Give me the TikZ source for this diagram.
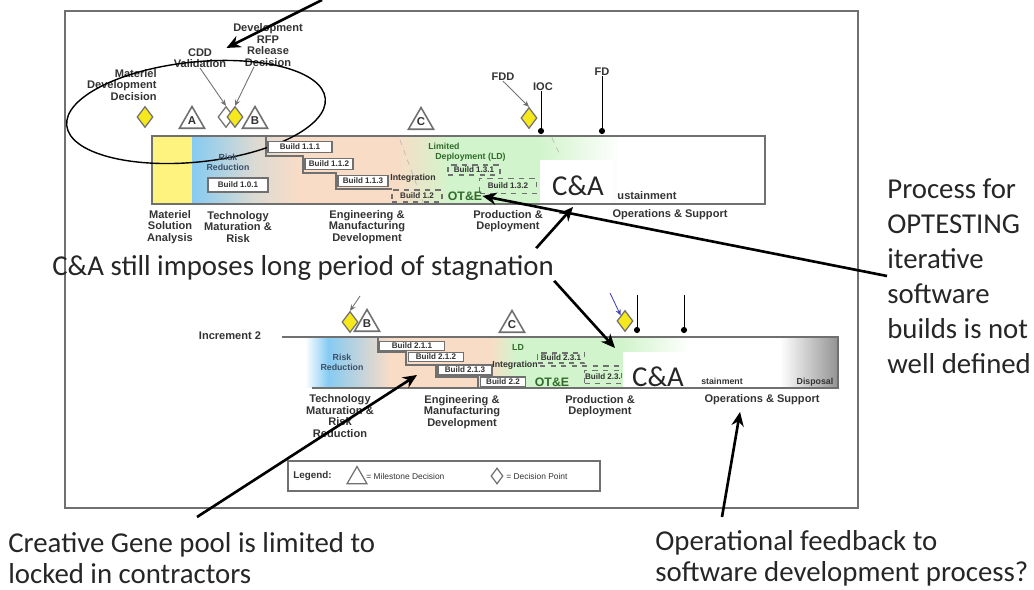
\documentclass[tikz,border=0pt]{standalone}
\usepackage{fontspec}
\setmainfont{Carlito}
\newfontfamily\chartfont{Liberation Sans}
\usetikzlibrary{shapes.geometric,arrows.meta}

\definecolor{dpyellow}{HTML}{F5E81C}
\definecolor{msayellow}{HTML}{FFF380}
\definecolor{barblue}{HTML}{86CBF2}
\definecolor{bargray}{HTML}{DCDAD2}
\definecolor{peach}{HTML}{F9DCC6}
\definecolor{lgreen}{HTML}{D2F4CC}
\definecolor{edge}{HTML}{707070}
\definecolor{labelgray}{HTML}{333333}
\definecolor{otegreen}{HTML}{2F6B2A}
\definecolor{riskblue}{HTML}{3B4F66}

\begin{document}
\begin{tikzpicture}[x=0.02cm, y=-0.02cm,
    lbl/.style={font=\chartfont\bfseries\fontsize{6.3}{6.6}\selectfont, text=labelgray, align=center, inner sep=0pt},
    small/.style={font=\chartfont\bfseries\fontsize{5}{5.6}\selectfont, text=labelgray, align=center, inner sep=0pt},
    build/.style={draw=edge, fill=white, line width=0.7pt, inner sep=0pt, minimum height=0.22cm, font=\chartfont\bfseries\fontsize{4.6}{5}\selectfont, text=labelgray},
    dbuild/.style={draw=edge, dashed, line width=0.6pt, inner sep=0pt, minimum height=0.2cm, font=\chartfont\bfseries\fontsize{4.6}{5}\selectfont, text=labelgray},
    ms/.style={regular polygon, regular polygon sides=3, draw=edge, fill=white, line width=0.9pt, minimum size=0.58cm, inner sep=0pt, font=\chartfont\bfseries\fontsize{6.5}{7}\selectfont, text=labelgray},
    dp/.style={diamond, draw=edge, fill=dpyellow, line width=0.7pt, minimum width=0.32cm, minimum height=0.42cm, inner sep=0pt},
    pinend/.style={circle, fill=black, inner sep=0pt, minimum size=3.5pt},
    ann/.style={font=\fontsize{16.4}{17.6}\selectfont, inner sep=0pt, align=left, text=black!85},
    note/.style={line width=1.5pt, -{Stealth[length=8pt,width=7pt]}},
    thin/.style={draw=edge, line width=0.5pt, -{Stealth[length=3.5pt,width=3pt]}},
    ote/.style={font=\chartfont\bfseries\fontsize{7}{7}\selectfont, text=otegreen, inner sep=0pt}
]
\useasboundingbox (0,0) rectangle (1034,590);

% chart frame
\draw[edge, line width=1.1pt] (65,11) rectangle (858,508);

% increment 1 bar
\fill[msayellow] (152,136) rectangle (192,204);
\shade[left color=barblue, right color=bargray] (192,136) rectangle (255,204);
\shade[left color=bargray, right color=peach] (255,136) rectangle (300,204);
\fill[peach] (300,136) rectangle (395,204);
\shade[left color=peach, right color=lgreen] (395,136) rectangle (450,204);
\fill[lgreen] (450,136) rectangle (540,204);
\shade[left color=lgreen, right color=white] (540,136) rectangle (620,204);
\fill[white] (540,160) rectangle (613,203);
\draw[gray!55, dashed, line width=0.4pt] (400,140) -- (423,202);
\draw[gray!55, dashed, line width=0.4pt] (552,138) -- (560,155);
\draw[edge, line width=0.8pt] (266,136) |- (303,156) |- (336,173) |- (392,189);
\draw[edge, line width=1.2pt] (152,136) rectangle (765,204);

% increment 2 bar
\shade[left color=white, right color=barblue] (305,337) rectangle (328,388);
\shade[left color=barblue, right color=peach] (328,337) rectangle (390,388);
\fill[peach] (390,337) rectangle (490,388);
\shade[left color=peach, right color=lgreen] (490,337) rectangle (515,388);
\fill[lgreen] (515,337) rectangle (623,388);
\shade[left color=lgreen, right color=white] (623,337) rectangle (690,388);
\fill[white] (623,352) rectangle (695,388);
\shade[left color=white, right color=gray!85] (780,337) rectangle (838,388);
\draw[edge, line width=0.8pt] (378,337) |- (406,352) |- (436,365) |- (478,377) -- (478,388);
\draw[edge, line width=1.2pt] (282,337) -- (838,337) -- (838,388) -- (312,388);

% milestones, increment 1
\node[lbl, align=right, anchor=east] (mddlbl) at (157,85) {Materiel\\Development\\Decision};
\node[dp] (mdd) at (145,117) {};
\node[ms] (msA) at (192,121) {A};
\node[lbl] (cddlbl) at (200,58) {CDD\\Validation};
\node[lbl] (rfplbl) at (268,45) {Development\\RFP\\Release\\Decision};
\node[dp, fill=white] (cddpt) at (226,117) {};
\node[dp] (rfp) at (235,117) {};
\node[ms] (msB) at (255,121) {B};
\node[ms] (msC) at (421,122) {C};
\node[lbl] (fddlbl) at (503,77) {FDD};
\node[dp] (fdd) at (529,118) {};
\node[lbl] (ioclbl) at (543,87) {IOC};
\node[pinend] (iocdot) at (541,131) {};
\node[lbl] (fdlbl) at (602,72) {FD};
\node[pinend] (fddot) at (602,131) {};
\draw[thin] (cddlbl.south) -- (cddpt.north);
\draw[thin] ([xshift=-0.28cm]rfplbl.south) -- (rfp.north);
\draw[thin] (fddlbl.south) -- (fdd.north);
\draw[line width=0.5pt] (ioclbl.south -| iocdot) -- (iocdot);
\draw[line width=0.5pt] (fdlbl.south) -- (fddot);
\draw[line width=0.8pt, rotate around={6:(196,112)}] (196,112) ellipse [x radius=2.6cm, y radius=1.0cm];

% inside increment 1
\node[small, text=riskblue] (rr1) at (228,162) {Risk\\Reduction};
\node[build, minimum width=1.2cm, minimum height=0.28cm] (b101) at (238,185) {Build 1.0.1};
\node[build, minimum width=1.28cm] (b111) at (300,147) {Build 1.1.1};
\node[build, minimum width=0.96cm] (b112) at (329,164) {Build 1.1.2};
\node[build, minimum width=1.0cm] (b113) at (363,181) {Build 1.1.3};
\node[small] (int1) at (413,178) {Integration};
\node[dbuild, minimum width=1.0cm, minimum height=0.24cm] (b12) at (417,196) {Build 1.2};
\node[small, align=left, anchor=west, text=otegreen] (ld1) at (428,152) {Limited\\\hspace{4pt}Deployment (LD)};
\node[dbuild, minimum width=1.04cm] (b131) at (474,170) {Build 1.3.1};
\node[dbuild, minimum width=1.14cm, minimum height=0.3cm] (b132) at (508,186) {Build 1.3.2};
\node[ote] (ote1) at (465,196) {OT\&E};
\node[ann] (ca1) at (578,186) {C\&A};
\node[lbl] (sus1) at (647,196) {ustainment};

% phase labels, increment 1
\node[lbl] (msa) at (170,227) {Materiel\\Solution\\Analysis};
\node[lbl] (tmr1) at (238,227) {Technology\\Maturation \&\\Risk};
\node[lbl] (emd1) at (367,227) {Engineering \&\\Manufacturing\\Development};
\node[lbl] (pd1) at (508,221) {Production \&\\Deployment};
\node[lbl] (os1) at (670,215) {Operations \& Support};

% milestones, increment 2
\node[lbl] (inc2) at (230,336) {Increment 2};
\node[dp] (dp2) at (350,322) {};
\node[ms] (msB2) at (367,324) {B};
\node[ms] (msC2) at (512,325) {C};
\node[dp] (fdd2) at (625,321) {};
\coordinate (dp2top) at (360,296);
\coordinate (fdd2top) at (610,293);
\draw[thin] (dp2top) -- (dp2.north);
\draw[thin, draw=blue!45!gray] (fdd2top) -- (fdd2.north west);
\coordinate (ioc2top) at (637,295);
\node[pinend] (ioc2dot) at (637,330) {};
\coordinate (fd2top) at (684,295);
\node[pinend] (fd2dot) at (684,330) {};
\draw[line width=0.5pt] (ioc2top) -- (ioc2dot);
\draw[line width=0.5pt] (fd2top) -- (fd2dot);

% inside increment 2
\node[small, text=riskblue] (rr2) at (342,362) {Risk\\Reduction};
\node[build, minimum width=1.3cm, minimum height=0.18cm] (b211) at (412,346) {Build 2.1.1};
\node[build, minimum width=1.1cm, minimum height=0.18cm] (b212) at (436,357) {Build 2.1.2};
\node[build, minimum width=1.08cm, minimum height=0.2cm] (b213) at (465,370) {Build 2.1.3};
\node[build, minimum width=0.9cm, minimum height=0.2cm] (b22) at (503,382) {Build 2.2};
\node[small, text=otegreen] (ld2) at (518,347) {LD};
\node[small] (int2) at (515,365) {Integration};
\node[dbuild, minimum width=0.94cm] (b231) at (561,358) {Build 2.3.1};
\draw[edge, dashed, line width=0.6pt] (540,366) -- (622,366);
\node[dbuild, minimum width=0.74cm, minimum height=0.26cm] (b23) at (603,377) {Build 2.3.};
\node[ote] (ote2) at (552,382) {OT\&E};
\node[ann] (ca2) at (658,377) {C\&A};
\node[small] (sus2) at (722,381) {stainment};
\node[small] (disp) at (815,382) {Disposal};

% phase labels, increment 2
\node[lbl] (tmr2) at (340,416) {Technology\\Maturation \&\\Risk\\Reduction};
\node[lbl] (emd2) at (462,412) {Engineering \&\\Manufacturing\\Development};
\node[lbl] (pd2) at (600,406) {Production \&\\Deployment};
\node[lbl] (os2) at (762,400) {Operations \& Support};

% legend
\node[draw=edge, line width=1.1pt, minimum width=6.24cm, minimum height=0.6cm] (legend) at (444,476) {};
\node[small, anchor=west, font=\chartfont\bfseries\fontsize{5.6}{6}\selectfont] (leglbl) at (293,476) {Legend:};
\node[ms, minimum size=0.46cm, line width=0.7pt] (legtri) at (357,478) {};
\node[small, anchor=west, font=\chartfont\fontsize{4.8}{5}\selectfont] (legms) at (366,476) {= Milestone Decision};
\node[dp, fill=white, minimum width=0.24cm, minimum height=0.32cm] (legdp) at (497,476) {};
\node[small, anchor=west, font=\chartfont\fontsize{4.8}{5}\selectfont] (legdptxt) at (506,476) {= Decision Point};

% annotations
\node[ann, anchor=west] (stag) at (52,268) {C\&A still imposes long period of stagnation};
\node[ann, anchor=west, font=\fontsize{16.4}{19.9}\selectfont] (proc) at (887,276) {Process for\\OPTESTING\\iterative\\software\\builds is not\\well defined};
\node[ann, anchor=west] (gene) at (8,558) {Creative Gene pool is limited to\\locked in contractors};
\node[ann, anchor=west] (oper) at (655,558) {Operational feedback to\\software development process?};

\coordinate (topin) at (322,0);
\coordinate (stagtip) at (573,207);
\coordinate (stagtip2) at (615,348);
\coordinate (genetip) at (417,375);
\coordinate (opertip) at (740,412);
\coordinate (generoot) at (197,517);
\coordinate (operroot) at (722,517);

\draw[note] (topin) -- (cddlbl.north east);
\draw[note] ([xshift=-0.36cm, yshift=0.14cm]stag.north east) -- (stagtip);
\draw[note] (stag.south east) -- (stagtip2);
\draw[note] (proc.west) -- (ote1.east);
\draw[note] (generoot) -- (genetip);
\draw[note] (operroot) -- (opertip);
\end{tikzpicture}
\end{document}
